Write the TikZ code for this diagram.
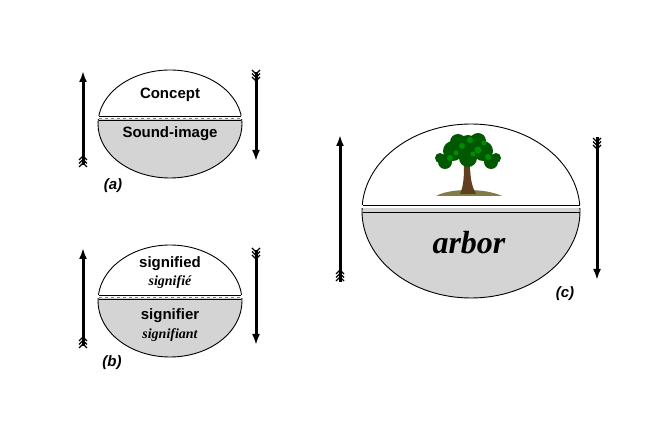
\documentclass[tikz,border=0pt]{standalone}
\usepackage{fontspec}
\setmainfont{Liberation Sans}
\newfontfamily\serifit{Liberation Serif}
\usetikzlibrary{arrows.meta}
\tikzset{
  arr/.style={line width=3pt,-{Latex[length=11pt,width=8pt]}},
  fletch/.pic={\foreach \i in {0,1,2}{\draw[line width=1.3pt] (-4,4+\i*3.5)--(0,\i*3.5)--(4,4+\i*3.5);}},
  lab/.style={font=\bfseries\itshape\fontsize{15}{16}\selectfont},
  sans/.style={font=\bfseries\fontsize{15}{16}\selectfont},
  ser/.style={font=\serifit\bfseries\itshape\fontsize{14}{15}\selectfont},
}
\newcommand{\signpart}[5]{% cx cy rx ry split
  \begin{scope}\clip (#1-#3-2,#2-#4-2) rectangle (#1+#3+2,#2+#5-2);
    \draw[fill=white,line width=0.9pt] (#1,#2) ellipse [x radius=#3,y radius=#4];
  \end{scope}
  \begin{scope}\clip (#1-#3-2,#2+#5+2) rectangle (#1+#3+2,#2+#4+2);
    \draw[fill=black!17,line width=0.9pt] (#1,#2) ellipse [x radius=#3,y radius=#4];
  \end{scope}
}
\begin{document}
\begin{tikzpicture}[x=1pt,y=-1pt]
\useasboundingbox[fill=white] (0,0) rectangle (654,430);
% (a)
\signpart{170}{124}{72}{54}{-6}
\draw[line width=0.9pt] (98.9,116) -- (241.1,116);
\draw[line width=0.9pt] (98.9,120) -- (241.1,120);
\draw[black!50,dashed,line width=0.5pt] (99,118) -- (241,118);
\node[sans] (ca) at (170,95) {Concept};
\node[sans] (sa) at (170,134) {Sound-image};
\node[lab] (la) at (113,186) {(a)};
\coordinate (a1) at (83,165); \coordinate (a2) at (83,71);
\coordinate (a3) at (256,72); \coordinate (a4) at (256,161);
\draw[arr] (a1) -- (a2); \draw[arr] (a3) -- (a4);
\pic at (83,156) {fletch};
\pic[rotate=180] at (256,81) {fletch};
% (b)
\signpart{170}{301}{72}{56}{-4}
\draw[line width=0.9pt] (99,295) -- (241,295);
\draw[line width=0.9pt] (99,299) -- (241,299);
\draw[black!50,dashed,line width=0.5pt] (99,297) -- (241,297);
\node[sans] (sb1) at (170,264) {signified};
\node[ser] (sb2) at (170,282) {signifié};
\node[sans] (sb3) at (170,316) {signifier};
\node[ser] (sb4) at (170,335) {signifiant};
\node[lab] (lb) at (112,363) {(b)};
\coordinate (b1) at (83,346); \coordinate (b2) at (83,248);
\coordinate (b3) at (256,250); \coordinate (b4) at (256,345);
\draw[arr] (b1) -- (b2); \draw[arr] (b3) -- (b4);
\pic at (83,337) {fletch};
\pic[rotate=180] at (256,259) {fletch};
% (c)
\signpart{471}{211}{109}{87}{-4}
\draw[line width=0.9pt] (362.5,205) -- (579.5,205);
\draw[line width=0.9pt] (362.5,212) -- (579.5,212);
\node[font=\serifit\bfseries\itshape\fontsize{32}{34}\selectfont] (arb) at (469,243) {arbor};
\node[lab] (lc) at (565,294) {(c)};
\coordinate (c1) at (340,282); \coordinate (c2) at (340,135);
\coordinate (c3) at (597,137); \coordinate (c4) at (597,280);
\draw[arr] (c1) -- (c2); \draw[arr] (c3) -- (c4);
\pic at (340,270) {fletch};
\pic[rotate=180] at (597,149) {fletch};
% tree
\fill[olive!60!black!80] (436,196) .. controls (450,188) and (485,188) .. (502,196) -- cycle;
\fill[brown!50!black] (460,194) .. controls (464,185) and (464,175) .. (464,162) -- (470,162) .. controls (470,175) and (471,185) .. (476,194) -- cycle;
\foreach \x/\y/\r in {468/148/13,453/151/10,483/151/10,445/162/7,491/162/7,458/142/8,478/141/8,468/158/9,440/158/5,496/158/5}
  \fill[green!35!black] (\x,\y) circle (\r);
\foreach \x/\y/\r in {462/146/3,478/150/3.5,450/158/3,488/157/3,470/140/3,456/153/2.5,473/154/2.5,484/143/2.5}
  \fill[green!55!black] (\x,\y) circle (\r);
\end{tikzpicture}
\end{document}
